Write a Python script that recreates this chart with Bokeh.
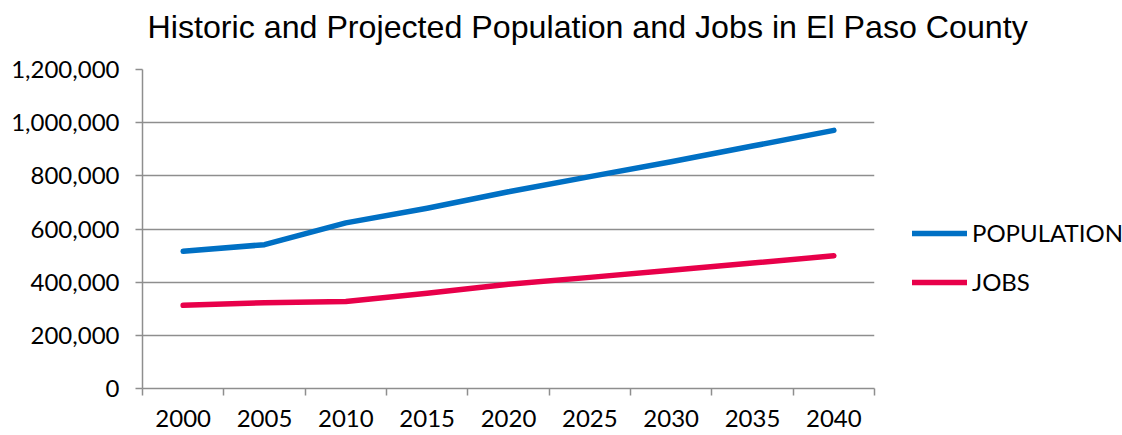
from bokeh.plotting import figure
from bokeh.models import (Range1d, FixedTicker, NumeralTickFormatter, Legend, LegendItem, Title)
from bokeh.embed import file_html
from bokeh.resources import INLINE

years = [2000, 2005, 2010, 2015, 2020, 2025, 2030, 2035, 2040]
population = [516000, 541000, 623000, 678000, 740000, 797000, 853000, 912000, 971000]
jobs = [313000, 323000, 327000, 358000, 392000, 418000, 445000, 472000, 499000]
y_ticks = [0, 200000, 400000, 600000, 800000, 1000000, 1200000]

TITLE = "Historic and Projected Population and Jobs in El Paso County"
GRID = "#8e8e8e"
TICK_FONT = "Lato"

p = figure(frame_width=732, frame_height=319, output_backend="svg", toolbar_location=None,
           x_range=Range1d(years[0] - 2.5, years[-1] + 2.5),
           y_range=Range1d(y_ticks[0], y_ticks[-1]),
           min_border_left=142, min_border_right=0, min_border_top=69,
           min_border_bottom=47)
p.outline_line_color = None
p.background_fill_color = "white"
p.border_fill_color = "white"

t = Title(text=TITLE, align="left", offset=5, text_font="Liberation Sans",
          text_font_size="32.2px", text_font_style="normal", text_color="#000000",
          padding=dict(left=0, right=0, top=0, bottom=20))
p.add_layout(t, "above")

# x axis: labels at years, tick marks at category boundaries
half = 2.5
boundaries = [y - half for y in years] + [years[-1] + half]
p.xaxis.ticker = FixedTicker(ticks=years, minor_ticks=boundaries)
p.xaxis.major_tick_out = 0
p.xaxis.major_tick_in = 0
p.xaxis.minor_tick_out = 7
p.xaxis.minor_tick_in = 0
p.xaxis.minor_tick_line_color = GRID
p.xaxis.minor_tick_line_width = 1.5
p.xaxis.axis_line_color = GRID
p.xaxis.axis_line_width = 1.5
p.xaxis.major_label_standoff = 14
p.xaxis.major_label_text_font = TICK_FONT
p.xaxis.major_label_text_font_size = "24px"
p.xaxis.major_label_text_color = "#000000"
p.xgrid.grid_line_color = None

p.yaxis.ticker = FixedTicker(ticks=y_ticks)
p.yaxis.formatter = NumeralTickFormatter(format="0,0")
p.yaxis.major_tick_out = 7
p.yaxis.major_tick_in = 0
p.yaxis.minor_tick_line_color = None
p.yaxis.major_tick_line_color = GRID
p.yaxis.major_tick_line_width = 1.5
p.yaxis.axis_line_color = GRID
p.yaxis.axis_line_width = 1.5
p.yaxis.major_label_standoff = 16
p.yaxis.major_label_text_font = TICK_FONT
p.yaxis.major_label_text_font_size = "24px"
p.yaxis.major_label_text_color = "#000000"
p.ygrid.grid_line_color = GRID
p.ygrid.grid_line_width = 1.5

r_pop = p.line(years, population, line_color="#0070C4", line_width=5.5, line_cap="round", line_join="round")
r_jobs = p.line(years, jobs, line_color="#E8004A", line_width=5.5, line_cap="round", line_join="round")

legend = Legend(items=[LegendItem(label="POPULATION", renderers=[r_pop]),
                       LegendItem(label="JOBS", renderers=[r_jobs])],
                location=(38, 92), orientation="vertical",
                glyph_width=55, glyph_height=24, label_height=24,
                label_standoff=5, spacing=20, padding=0, margin=0,
                border_line_color=None, background_fill_alpha=0,
                label_text_font=TICK_FONT, label_text_font_size="24px",
                label_text_color="#000000")
p.add_layout(legend, "right")

open("out.html", "w").write(file_html(p, INLINE))
